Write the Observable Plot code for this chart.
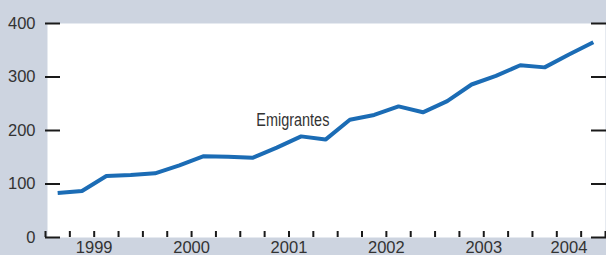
<!DOCTYPE html>
<html>
<head>
<meta charset="utf-8">
<script src="https://cdn.jsdelivr.net/npm/d3@7"></script>
<script src="https://cdn.jsdelivr.net/npm/@observablehq/plot@0.6"></script>
<style>
  html, body { margin: 0; padding: 0; background: #cdd4e0; }
  #chart svg { display: block; }
</style>
</head>
<body>
<div id="chart"></div>
<script>
// Quarterly series (year, quarter) and number of emigrants (thousands)
const year    = [1999,1999,1999,1999, 2000,2000,2000,2000, 2001,2001,2001,2001, 2002,2002,2002,2002, 2003,2003,2003,2003, 2004,2004,2004];
const quarter = [1,2,3,4, 1,2,3,4, 1,2,3,4, 1,2,3,4, 1,2,3,4, 1,2,3];
const emigrantes = [83,87,115,117, 120,135,152,151, 149,168,189,183, 220,229,245,234, 255,286,302,322, 318,342,365];

const yearLabels = ["1999","2000","2001","2002","2003","2004"];
const yTicks = [0,100,200,300,400];
const seriesLabel = "Emigrantes";

const data = year.map((y, i) => ({t: y + (quarter[i] - 0.5) / 4, v: emigrantes[i], year: y}));
const x0 = d3.min(year);
const x1 = d3.max(year) + quarter[quarter.length - 1] / 4;
const xTicks = d3.range(x0, x1 + 0.001, 0.25);
const yearPos = yearLabels.map(l => ({label: l, t: d3.mean(data.filter(d => d.year === +l), d => d.t)}));

const lineColor = "#1b6cb5";
const tickColor = "#1a1a1a";
const textColor = "#333333";

const chart = Plot.plot({
  width: 606,
  height: 255,
  marginTop: 23,
  marginBottom: 18,
  marginLeft: 45,
  marginRight: 1,
  style: {background: "transparent", fontFamily: "'Liberation Sans', Arial, sans-serif", fontSize: "16.5px"},
  x: {domain: [x0, x1], axis: null},
  y: {domain: [0, 400], axis: null},
  marks: [
    Plot.frame({fill: "white", stroke: "none", insetLeft: 2}),
    Plot.axisY(yTicks, {anchor: "left", tickSize: 15, dx: 15, tickPadding: 10, stroke: tickColor, strokeWidth: 2, fill: textColor, label: null}),
    Plot.axisY(yTicks, {anchor: "right", tickSize: 15, dx: -15, stroke: tickColor, strokeWidth: 2, fill: "none", label: null}),
    Plot.axisX(xTicks, {anchor: "bottom", tickSize: 6, dy: -6, stroke: tickColor, strokeWidth: 2, fill: "none", label: null}),
    Plot.text(yearPos, {x: "t", text: "label", frameAnchor: "bottom", lineAnchor: "top", dy: 4, fill: textColor}),
    Plot.line(data, {x: "t", y: "v", stroke: lineColor, strokeWidth: 4, strokeLinecap: "butt", strokeLinejoin: "miter"}),
    Plot.text([{t: 2001.54, v: 208, label: seriesLabel}], {x: "t", y: "v", text: "label", lineAnchor: "bottom", fill: textColor, fontSize: 17.5, className: "series-label"})
  ]
});
// condensed look for the series label
d3.select(chart).selectAll(".series-label text")
  .attr("textLength", 73)
  .attr("lengthAdjust", "spacingAndGlyphs");
document.getElementById("chart").append(chart);
</script>
</body>
</html>
